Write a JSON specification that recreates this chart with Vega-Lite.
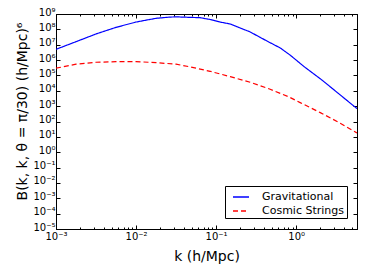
{
  "$schema": "https://vega.github.io/schema/vega-lite/v6.json",
  "width": 301,
  "height": 215,
  "autosize": {"type": "none"},
  "padding": {"left": 56, "top": 14, "right": 9, "bottom": 45},
  "data": {"values": [
    {"k": 0.001, "B": 5.0e6, "series": "Gravitational"},
    {"k": 0.00178, "B": 1.58e7, "series": "Gravitational"},
    {"k": 0.00316, "B": 5.0e7, "series": "Gravitational"},
    {"k": 0.00562, "B": 1.35e8, "series": "Gravitational"},
    {"k": 0.01, "B": 3.0e8, "series": "Gravitational"},
    {"k": 0.0178, "B": 5.25e8, "series": "Gravitational"},
    {"k": 0.0266, "B": 6.3e8, "series": "Gravitational"},
    {"k": 0.0316, "B": 6.5e8, "series": "Gravitational"},
    {"k": 0.0631, "B": 5.75e8, "series": "Gravitational"},
    {"k": 0.0841, "B": 4.4e8, "series": "Gravitational"},
    {"k": 0.112, "B": 3.0e8, "series": "Gravitational"},
    {"k": 0.15, "B": 2.24e8, "series": "Gravitational"},
    {"k": 0.2, "B": 1.23e8, "series": "Gravitational"},
    {"k": 0.266, "B": 6.8e7, "series": "Gravitational"},
    {"k": 0.355, "B": 3.0e7, "series": "Gravitational"},
    {"k": 0.473, "B": 1.35e7, "series": "Gravitational"},
    {"k": 0.631, "B": 6.2e6, "series": "Gravitational"},
    {"k": 0.841, "B": 2.1e6, "series": "Gravitational"},
    {"k": 1.259, "B": 3.7e5, "series": "Gravitational"},
    {"k": 2.09, "B": 5.1e4, "series": "Gravitational"},
    {"k": 5.75, "B": 690, "series": "Gravitational"},
    {"k": 0.001, "B": 2.95e5, "series": "Cosmic Strings"},
    {"k": 0.00178, "B": 5.4e5, "series": "Cosmic Strings"},
    {"k": 0.00316, "B": 7.2e5, "series": "Cosmic Strings"},
    {"k": 0.00562, "B": 7.9e5, "series": "Cosmic Strings"},
    {"k": 0.01, "B": 7.9e5, "series": "Cosmic Strings"},
    {"k": 0.0178, "B": 6.8e5, "series": "Cosmic Strings"},
    {"k": 0.0316, "B": 5.4e5, "series": "Cosmic Strings"},
    {"k": 0.0473, "B": 3.6e5, "series": "Cosmic Strings"},
    {"k": 0.0841, "B": 1.86e5, "series": "Cosmic Strings"},
    {"k": 0.15, "B": 8.3e4, "series": "Cosmic Strings"},
    {"k": 0.266, "B": 3.6e4, "series": "Cosmic Strings"},
    {"k": 0.473, "B": 1.26e4, "series": "Cosmic Strings"},
    {"k": 0.794, "B": 4.2e3, "series": "Cosmic Strings"},
    {"k": 1.122, "B": 1.7e3, "series": "Cosmic Strings"},
    {"k": 2.0, "B": 380, "series": "Cosmic Strings"},
    {"k": 3.55, "B": 78, "series": "Cosmic Strings"},
    {"k": 5.75, "B": 18, "series": "Cosmic Strings"}
  ]},
  "layer": [
    {
      "mark": {"type": "line", "strokeWidth": 1.2, "clip": true},
      "encoding": {
        "x": {"field": "k", "type": "quantitative",
          "scale": {"type": "log", "domain": [0.001, 5.75], "nice": false},
          "axis": {"orient": "bottom", "values": [0.001, 0.01, 0.1, 1], "tickSize": -4, "labelPadding": 6, "labelFlush": false, "labelOverlap": false,
            "labelExpr": "'10' + (round(log(datum.value)/LN10) < 0 ? '⁻' : '') + ['⁰','¹','²','³','⁴','⁵','⁶','⁷','⁸','⁹'][abs(round(log(datum.value)/LN10))]",
            "title": "k (h/Mpc)", "titleY": 27, "titleBaseline": "middle"}},
        "y": {"field": "B", "type": "quantitative",
          "scale": {"type": "log", "domain": [1e-5, 1e9], "nice": false},
          "axis": {"orient": "left", "values": [1e-5, 1e-4, 1e-3, 1e-2, 1e-1, 1, 10, 100, 1000, 1e4, 1e5, 1e6, 1e7, 1e8, 1e9], "tickSize": -4, "labelPadding": 5, "labelOffset": -2, "labelFlush": false, "labelOverlap": false,
            "labelExpr": "'10' + (round(log(datum.value)/LN10) < 0 ? '⁻' : '') + ['⁰','¹','²','³','⁴','⁵','⁶','⁷','⁸','⁹'][abs(round(log(datum.value)/LN10))]",
            "title": "B(k, k, θ = π/30)  (h/Mpc)⁶", "titleX": -34, "titleY": 97, "titleBaseline": "middle", "titleAlign": "center", "titleAngle": -90}},
        "color": {"field": "series", "type": "nominal",
          "scale": {"domain": ["Gravitational", "Cosmic Strings"], "range": ["#0000ff", "#ff0000"]},
          "legend": {"title": null}},
        "strokeDash": {"field": "series", "type": "nominal",
          "scale": {"domain": ["Gravitational", "Cosmic Strings"], "range": [[1, 0], [5, 3]]},
          "legend": {"title": null}}
      }
    },
    {
      "mark": {"type": "line", "opacity": 0},
      "encoding": {
        "x": {"field": "k", "type": "quantitative",
          "axis": {"orient": "bottom", "values": [0.002,0.003,0.004,0.005,0.006,0.007,0.008,0.009,0.02,0.03,0.04,0.05,0.06,0.07,0.08,0.09,0.2,0.3,0.4,0.5,0.6,0.7,0.8,0.9,2,3,4,5], "tickSize": -2, "labels": false, "domain": false, "title": null}},
        "y": {"field": "B", "type": "quantitative",
          "axis": {"orient": "right", "values": [1e-5, 1e-4, 1e-3, 1e-2, 1e-1, 1, 10, 100, 1000, 1e4, 1e5, 1e6, 1e7, 1e8, 1e9], "tickSize": -4, "labels": false, "title": null}}
      }
    },
    {
      "mark": {"type": "line", "opacity": 0},
      "encoding": {
        "x": {"field": "k", "type": "quantitative",
          "axis": {"orient": "top", "values": [0.001, 0.01, 0.1, 1], "tickSize": -4, "labels": false, "title": null}},
        "y": {"field": "B", "type": "quantitative", "axis": null}
      }
    },
    {
      "mark": {"type": "line", "opacity": 0},
      "encoding": {
        "x": {"field": "k", "type": "quantitative",
          "axis": {"orient": "top", "values": [0.002,0.003,0.004,0.005,0.006,0.007,0.008,0.009,0.02,0.03,0.04,0.05,0.06,0.07,0.08,0.09,0.2,0.3,0.4,0.5,0.6,0.7,0.8,0.9,2,3,4,5], "tickSize": -2, "labels": false, "domain": false, "title": null}},
        "y": {"field": "B", "type": "quantitative", "axis": null}
      }
    }
  ],
  "resolve": {"axis": {"x": "independent", "y": "independent"}},
  "config": {
    "font": "DejaVu Sans",
    "view": {"stroke": "black", "strokeWidth": 1},
    "axis": {"grid": false, "domainColor": "black", "tickColor": "black", "labelColor": "black", "titleColor": "black",
      "labelFontSize": 10, "titleFontSize": 14, "titleFontWeight": "normal", "labelFont": "DejaVu Sans", "titleFont": "DejaVu Sans"},
    "legend": {"orient": "none", "legendX": 169, "legendY": 172, "strokeColor": "black", "fillColor": "white",
      "padding": 2, "symbolType": "stroke", "symbolSize": 256, "symbolStrokeWidth": 1.5, "symbolOffset": 5,
      "labelOffset": 12, "labelFontSize": 11, "labelFont": "DejaVu Sans", "labelColor": "black", "rowPadding": -1, "cornerRadius": 0}
  }
}
